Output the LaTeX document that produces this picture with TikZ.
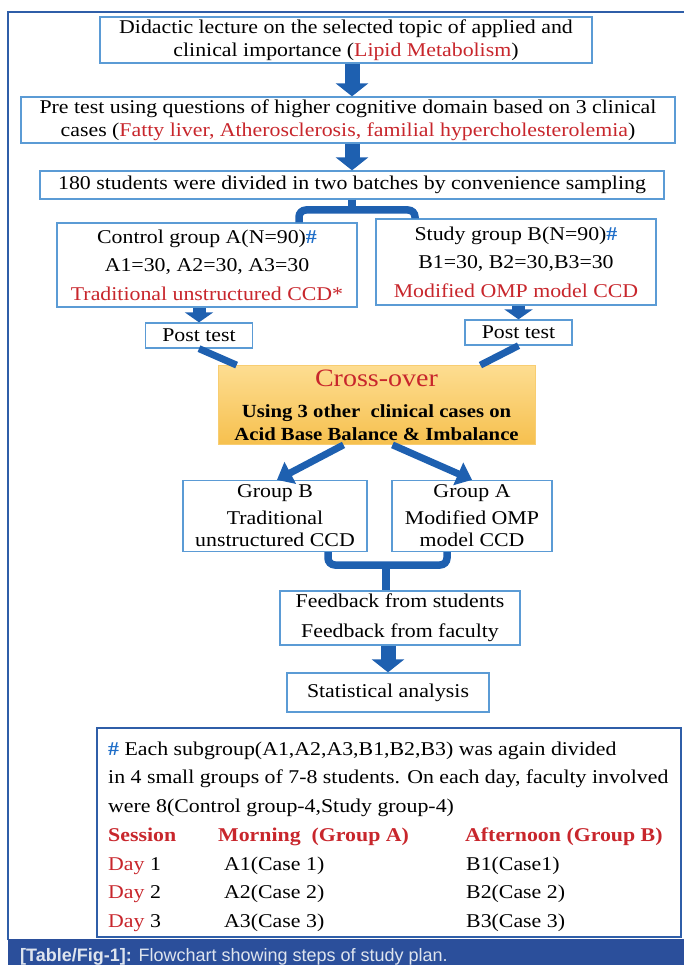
\documentclass[tikz,border=0pt]{standalone}
\usepackage{fontspec}
\setmainfont{Liberation Serif}[FakeStretch=1.12]
\newfontfamily\capfont{Liberation Sans}
\usetikzlibrary{arrows.meta,positioning,calc}
\definecolor{boxblue}{RGB}{91,155,213}
\definecolor{arrblue}{RGB}{30,96,176}
\definecolor{txtred}{RGB}{200,38,44}
\definecolor{hashblue}{RGB}{31,110,200}
\definecolor{frameblue}{RGB}{47,94,168}
\definecolor{capblue}{RGB}{43,79,155}
\definecolor{capgrey}{RGB}{222,228,238}
\definecolor{crosstop}{RGB}{253,221,145}
\definecolor{crossbot}{RGB}{246,192,78}
\newcommand{\fs}{\fontsize{19.5}{23.5}\selectfont}

\begin{document}
\begin{tikzpicture}[x=1pt, y=-1pt,
    box/.style={rectangle, draw=boxblue, line width=1.3pt, fill=white,
        align=center, inner sep=0pt, font=\fs},
    blockarr/.style={-{Triangle[length=13pt,width=32pt]}, line width=15pt, arrblue},
    smallarr/.style={-{Triangle[length=10pt,width=28pt]}, line width=13pt, arrblue},
    arr/.style={-{Triangle[length=15pt,width=24pt]}, line width=7pt, arrblue},
    link/.style={line width=7pt, arrblue},
    brack/.style={line width=7.5pt, arrblue, rounded corners=7pt},
    notetext/.style={anchor=base west, inner sep=0pt, font=\fs}
]
    \useasboundingbox (0,0) rectangle (684,965);
    % frame and caption bar
    \draw[frameblue, line width=1.2pt] (8,940) -- (8,12) -- (684,12);
    \node[fill=capblue, minimum width=676pt, minimum height=26pt, anchor=north west, inner sep=0pt] (capbar) at (8,939) {};
    \node[anchor=base west, inner sep=0pt, text=capgrey, font=\capfont\fontsize{18}{20}\selectfont] (captext) at (20,961) {\textbf{[Table/Fig-1]:} Flowchart showing steps of study plan.};

    % flow boxes
    \node[box, minimum width=492pt, minimum height=46pt] (lect) at (346,40) {Didactic lecture on the selected topic of applied and\\ clinical importance ({\color{txtred}Lipid Metabolism})};
    \node[box, minimum width=654pt, minimum height=46pt] (pre) at (348,120) {Pre test using questions of higher cognitive domain based on 3 clinical\\ cases ({\color{txtred}Fatty liver, Atherosclerosis, familial hypercholesterolemia})};
    \node[box, minimum width=624pt, minimum height=28pt] (batch) at (352,185) {180 students were divided in two batches by convenience sampling};

    \node[box, minimum width=300pt, minimum height=84pt, font=\fontsize{19.5}{28.5}\selectfont] (ctrl) at (207,265) {Control group A(N=90){\color{hashblue}\textbf{\#}}\\ A1=30, A2=30, A3=30\\ {\color{txtred}Traditional unstructured CCD*}};
    \node[box, minimum width=280pt, minimum height=86pt, font=\fontsize{19.5}{28.5}\selectfont] (study) at (516,262) {Study group B(N=90){\color{hashblue}\textbf{\#}}\\ B1=30, B2=30,B3=30\\ {\color{txtred}Modified OMP model CCD}};
    \node[box, minimum width=107pt, minimum height=25pt] (postA) at (199,335.5) {Post test};
    \node[box, minimum width=107pt, minimum height=25pt] (postB) at (518.5,332.5) {Post test};

    \node[rectangle, draw=crossbot!80, line width=0.8pt, top color=crosstop, bottom color=crossbot,
        minimum width=317pt, minimum height=79pt, align=center, inner sep=0pt,
        font=\bfseries\fontsize{18.5}{22.5}\selectfont] (cross) at (376.5,405)
        {{\mdseries\fontsize{25}{28}\selectfont\color{txtred}Cross-over}\\[9pt]
         Using 3 other\ \ clinical cases on\\
         Acid Base Balance \& Imbalance};

    \node[box, minimum width=184pt, minimum height=71pt, font=\fontsize{19.5}{22}\selectfont] (grpB) at (275,516) {Group B\\[5pt] Traditional\\ unstructured CCD};
    \node[box, minimum width=160pt, minimum height=71pt, font=\fontsize{19.5}{22}\selectfont] (grpA) at (472,516) {Group A\\[5pt] Modified OMP\\ model CCD};
    \node[box, minimum width=240pt, minimum height=54pt, font=\fontsize{19.5}{30}\selectfont] (feed) at (400,618) {Feedback from students\\ Feedback from faculty};
    \node[box, minimum width=202pt, minimum height=39pt] (stat) at (388,692.5) {Statistical analysis};

    % connectors
    \draw[blockarr] (lect.south -| batch.south) -- (pre.north -| batch.south);
    \draw[blockarr] (pre.south -| batch.south) -- (batch.north);
    \coordinate (splitL) at (299,210);
    \coordinate (splitR) at (415,210);
    \draw[brack] (splitL |- ctrl.north) -- (splitL) -- (splitR) -- (splitR |- study.north);
    \draw[brack] (batch.south) -- (batch.south |- splitL);
    \draw[smallarr] (ctrl.south -| postA.north) -- (postA.north);
    \draw[smallarr] (study.south -| postB.north) -- (postB.north);
    \draw[link] (postA.south) -- ([xshift=19pt]cross.north west);
    \draw[link] (postB.south) -- ([xshift=-55pt]cross.north east);
    \draw[arr] ([xshift=-33pt]cross.south) -- ([xshift=2pt]grpB.north);
    \draw[arr] ([xshift=16pt]cross.south) -- (grpA.north);
    \coordinate (joinL) at (328,565);
    \coordinate (joinR) at (447,565);
    \coordinate (joinM) at (386,565);
    \draw[brack] (joinL |- grpB.south) -- (joinL) -- (joinR) -- (joinR |- grpA.south);
    \draw[brack] (joinM) -- (joinM |- feed.north);
    \draw[blockarr] (stat.north |- feed.south) -- (stat.north);

    % note on subgroups
    \node[rectangle, draw=frameblue, line width=2.5pt, minimum width=584pt, minimum height=209pt, inner sep=0pt] (note) at (389,832.5) {};
    \node[notetext] (note1) at (108,755) {{\color{hashblue}\textbf{\#}} Each subgroup(A1,A2,A3,B1,B2,B3) was again divided};
    \node[notetext] (note2) at (108,783) {in 4 small groups of 7-8 students. On each day, faculty involved};
    \node[notetext] (note3) at (108,812) {were 8(Control group-4,Study group-4)};
    \node[notetext, text=txtred, font=\fs\bfseries] (hsess) at (108,841) {Session};
    \node[notetext, text=txtred, font=\fs\bfseries] (hmorn) at (218,841) {Morning\ \ (Group A)};
    \node[notetext, text=txtred, font=\fs\bfseries] (haft) at (465,841) {Afternoon (Group B)};
    \foreach \d/\yy/\cb in {1/870/Case1, 2/898/Case 2, 3/927/Case 3} {
        \node[notetext] (day\d) at (108,\yy) {{\color{txtred}Day} \d};
        \node[notetext] (mor\d) at (224,\yy) {A\d(Case \d)};
        \node[notetext] (aft\d) at (466,\yy) {B\d(\cb)};
    }
\end{tikzpicture}
\end{document}
